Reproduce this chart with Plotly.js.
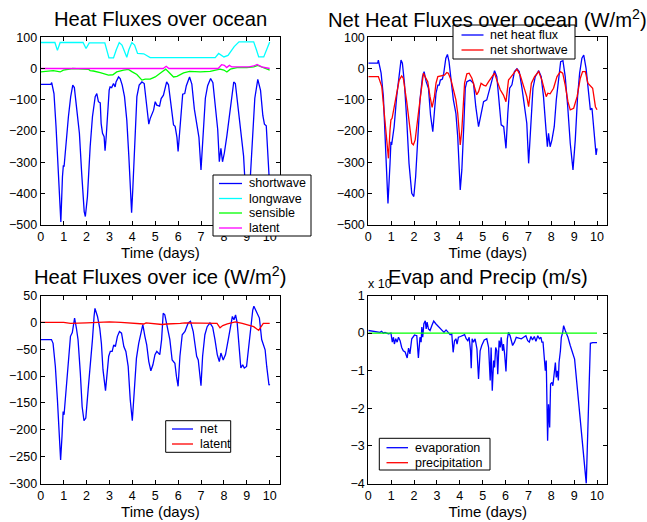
<!DOCTYPE html>
<html><head><meta charset="utf-8">
<script src="https://cdn.plot.ly/plotly-3.0.1.min.js"></script>
<style>html,body{margin:0;padding:0;background:#fff}#chart{width:647px;height:522px}</style>
</head><body><div id="chart"></div>
<script>
// ---------- Panel 1: Heat Fluxes over ocean ----------
const swTime = [0,0.44,0.48,0.58,0.67,0.77,0.83,0.88,0.95,0.99,1.02,1.11,1.21,1.31,1.4,1.47,1.57,1.69,1.79,1.9,1.95,2.04,2.16,2.26,2.38,2.45,2.52,2.6,2.64,2.7,2.77,2.81,2.86,2.93,2.99,3.03,3.1,3.18,3.25,3.29,3.4,3.47,3.56,3.66,3.76,3.85,3.91,3.97,4.02,4.13,4.2,4.3,4.42,4.52,4.64,4.72,4.78,4.85,4.93,5.0,5.07,5.19,5.26,5.36,5.5,5.58,5.68,5.8,5.87,5.95,6.0,6.09,6.2,6.29,6.36,6.5,6.6,6.71,6.82,6.91,7.0,7.08,7.19,7.29,7.42,7.52,7.62,7.73,7.8,7.87,7.94,8.02,8.13,8.24,8.33,8.43,8.5,8.6,8.72,8.86,8.95,9.05,9.16,9.25,9.35,9.48,9.6,9.7,9.77,9.85,9.9,10.0];
const shortwave = [-51,-51,-45,-80,-186,-335,-440,-490,-346,-309,-314,-229,-154,-90,-53,-61,-122,-207,-335,-457,-473,-410,-250,-154,-90,-80,-106,-110,-176,-207,-218,-263,-218,-122,-69,-59,-61,-48,-59,-43,-27,-32,-53,-90,-165,-282,-388,-461,-388,-197,-90,-53,-43,-48,-122,-178,-160,-149,-133,-106,-117,-120,-96,-85,-43,-52,-120,-180,-185,-220,-265,-175,-82,-80,-55,-27,-50,-130,-180,-220,-324,-210,-95,-55,-32,-45,-120,-195,-298,-255,-298,-270,-215,-150,-85,-43,-48,-110,-195,-280,-400,-390,-340,-200,-95,-35,-70,-150,-178,-183,-260,-380];
const lwTime = [0,0.62,0.73,0.85,1.85,1.98,2.12,2.8,2.98,3.18,3.3,3.43,3.55,3.68,3.76,3.85,3.98,4.1,4.23,4.5,4.78,5,7.62,7.77,8.0,8.18,8.45,8.66,9.3,9.42,9.52,9.74,9.85,9.97,10];
const longwave = [83,83,58,83,83,64,82,82,34,34,60,83,75,50,36,60,83,75,48,47,35,35,35,48,37,42,70,85,85,60,37,37,60,84,85];
const sensTime = [0,0.55,0.85,0.99,1.4,1.87,2.1,2.16,2.3,2.6,2.96,3.15,3.32,3.62,3.83,3.98,4.2,4.42,4.56,4.78,5.0,5.29,5.46,5.65,5.8,5.95,6.24,6.5,6.97,7.4,7.7,7.83,8.0,8.13,8.28,8.57,9.0,9.3,9.48,9.74,10];
const sensible = [-11,-7,-11,-5,0,-1,-3,-7,-8,-13,-21,-20,-11,-5,-3,-10,-19,-37,-34,-34,-27,-11,-2,-16,-27,-25,-14,-9,-11,-9,-5,-2,-5,-11,-2,3,3,5,10,2,-5];
const latTime = [0,5.35,5.48,5.6,7.75,7.9,8.02,8.12,8.24,8.35,8.6,9.1,9.3,9.45,9.65,9.85,10];
const latent = [0,0,7,0,0,12,10,3,10,5,5,5,8,13,5,2,0];

// ---------- Panel 2: Net Heat Fluxes over ocean ----------
const netTime = [0,0.41,0.44,0.56,0.66,0.76,0.86,0.95,0.99,1.02,1.13,1.24,1.35,1.43,1.49,1.58,1.68,1.78,1.9,1.99,2.07,2.16,2.26,2.37,2.44,2.53,2.63,2.72,2.82,2.89,2.96,3.04,3.1,3.15,3.24,3.3,3.39,3.46,3.53,3.62,3.72,3.83,3.91,4.02,4.09,4.18,4.24,4.31,4.45,4.6,4.7,4.82,4.93,5.04,5.18,5.29,
  5.4,5.52,5.62,5.72,5.81,5.92,6.02,6.1,6.18,6.28,6.39,6.5,6.6,6.72,6.83,6.93,7.01,7.11,7.2,7.3,7.45,7.56,7.66,7.77,7.83,7.88,7.95,8.03,8.13,8.22,8.32,8.41,8.51,8.61,8.72,8.83,8.95,9.05,9.15,9.24,9.34,9.42,9.52,9.63,9.71,9.78,9.85,9.96,10.0];
const netHeatFlux = [17,17,27,-15,-90,-250,-431,-303,-234,-244,-186,-90,-15,27,17,-47,-164,-303,-399,-409,-346,-218,-100,-26,-10,-42,-63,-148,-202,-138,-79,-53,-53,-37,-34,-15,33,45,22,-37,-100,-143,-218,-388,-324,-175,-63,-42,-37,-47,-122,-186,-143,-106,-100,-68,
  -37,-7,-26,-111,-180,-186,-255,-143,-63,-52,-10,-1,-10,-63,-116,-175,-303,-154,-63,-26,-7,-26,-90,-196,-250,-207,-250,-228,-186,-100,-26,22,25,-26,-122,-239,-324,-228,-90,-15,33,43,1,-90,-132,-127,-186,-276,-255];
const nswTime = [0,0.44,0.59,0.7,0.8,0.88,0.95,0.99,1.04,1.14,1.24,1.35,1.46,1.53,1.68,1.78,1.9,1.97,2.05,2.19,2.31,2.41,2.48,2.6,2.7,2.79,2.89,2.96,3.04,3.15,3.24,3.33,3.43,3.5,3.62,3.72,3.83,3.91,4.02,4.09,4.21,4.31,4.41,4.53,4.64,4.74,4.82,4.93,5.04,5.14,5.26,
  5.4,5.52,5.62,5.77,5.91,6.02,6.13,6.25,6.39,6.5,6.64,6.79,6.93,7.01,7.13,7.27,7.45,7.59,7.71,7.78,7.85,7.95,8.1,8.25,8.4,8.5,8.61,8.73,8.83,8.98,9.13,9.27,9.37,9.49,9.6,9.75,9.81,9.93,10.0];
const netShortwave = [-26,-26,-58,-143,-228,-287,-196,-164,-159,-122,-74,-37,-24,-31,-106,-175,-239,-244,-228,-143,-68,-15,-26,-42,-90,-124,-90,-47,-26,-24,-21,-21,-13,-15,-37,-63,-100,-143,-244,-196,-47,-17,-15,-31,-58,-84,-74,-47,-53,-56,-42,
  -26,-15,-37,-68,-85,-106,-37,-26,-10,-2,-21,-53,-90,-122,-47,-26,-10,-37,-68,-90,-79,-81,-63,-26,-10,-15,-53,-106,-132,-127,-90,-31,-10,-10,-47,-58,-63,-122,-132];

// ---------- Panel 3: Heat Fluxes over ice ----------
const iceTime = [0,0.47,0.54,0.64,0.73,0.8,0.87,0.93,0.98,1.02,1.09,1.19,1.3,1.38,1.48,1.56,1.63,1.73,1.81,1.89,1.97,2.07,2.17,2.26,2.33,2.37,2.48,2.58,2.65,2.72,2.83,2.9,2.97,3.04,3.12,3.19,3.26,3.35,3.44,3.53,3.63,3.72,3.82,3.91,4.0,4.08,4.18,4.28,4.37,4.46,4.55,4.63,4.72,4.81,4.9,4.99,5.07,5.2,
  5.28,5.35,5.42,5.54,5.64,5.74,5.86,5.93,6.0,6.08,6.18,6.3,6.44,6.54,6.66,6.81,6.88,7.0,7.07,7.17,7.27,7.39,7.51,7.61,7.71,7.8,7.87,7.97,8.07,8.19,8.31,8.37,8.44,8.51,8.58,8.67,8.74,8.82,8.89,8.99,9.09,9.18,9.26,9.31,9.43,9.55,9.65,9.74,9.8,9.87,9.97,10.0];
const iceNet = [-32,-32,-39,-82,-144,-206,-256,-212,-166,-172,-138,-82,-26,-19,8,-11,-32,-94,-157,-183,-178,-126,-82,-32,11,26,11,-11,-39,-88,-127,-88,-63,-54,-54,-42,-45,-26,-17,-20,-45,-54,-82,-144,-183,-132,-67,-39,-20,-4,-26,-42,-73,-90,-79,-60,-54,-60,
  -32,17,14,-8,-32,-70,-76,-101,-119,-63,-23,-17,-1,2,-17,-63,-70,-118,-63,-23,-8,-1,-9,-32,-60,-73,-57,-70,-60,-32,2,11,5,14,-1,-45,-85,-79,-85,-82,-45,-1,23,30,20,8,-32,-42,-51,-82,-117,-115];
const iceLatTime = [0,1.0,1.3,1.6,2.0,2.5,3.0,3.5,4.0,4.5,4.6,5.0,5.3,5.5,5.8,6.1,6.3,6.6,7.0,7.5,7.7,7.83,7.95,8.15,8.5,8.8,9.0,9.3,9.52,9.6,9.72,10];
const iceLatent = [0,0,-2,-1,-1,0,1,0,-1,-3,-1,-2,-4,-3,-3,-2,-1,-1,-1,-1,-2,-10,-6,-3,1,-2,-4,-8,-15,-10,-2,-2];

// ---------- Panel 4: Evap and Precip (scaled, x 10^n) ----------
const evapTime = [0,0.15,0.37,0.51,0.58,0.66,0.73,0.88,0.99,1.05,1.1,1.14,1.2,1.26,1.32,1.39,1.46,1.53,1.61,1.7,1.76,1.82,1.9,2.02,2.12,2.19,2.26,2.31,2.34,2.38,2.43,2.49,2.53,2.57,2.63,2.7,2.78,2.86,2.95,3.07,3.21,3.31,3.4,3.5,3.58,3.65,3.71,3.77,3.83,3.88,3.94,4.03,4.12,4.21,4.28,4.35,4.41,4.47,4.5,4.54,4.6,4.67,4.75,4.82,4.89,4.96,5.07,5.18,
  5.26,5.33,5.37,5.42,5.48,5.52,5.57,5.62,5.66,5.72,5.77,5.81,5.87,5.91,5.96,6.02,6.08,6.13,6.2,6.31,6.39,6.47,6.58,6.69,6.79,6.89,6.97,7.04,7.11,7.18,7.26,7.33,7.41,7.48,7.55,7.59,7.64,7.69,7.74,7.78,7.84,7.88,7.93,7.97,8.03,8.07,8.13,8.18,8.22,8.26,8.31,8.34,8.4,8.44,8.5,8.54,8.61,8.73,8.83,8.93,9.02,9.53,9.71,9.81,10.0];
const evaporation = [0.07,0.05,0.04,0.02,0.05,0.0,0.02,-0.02,0.0,-0.24,-0.11,-0.29,-0.15,-0.24,-0.11,-0.2,-0.38,-0.47,-0.5,-0.66,-0.4,-0.55,-0.15,-0.05,-0.07,-0.66,-0.11,-0.24,0.16,-0.11,0.25,0.33,0.11,0.29,0.11,0.07,0.2,0.32,0.25,0.17,0.085,0.02,0.085,0.01,-0.04,-0.02,-0.51,-0.2,-0.15,-0.29,-0.11,-0.09,-0.07,-0.04,-0.15,-0.2,-0.11,-0.47,-0.93,-0.15,-0.24,-0.15,-0.42,-1.22,-0.47,-0.33,-0.18,-0.15,
  -0.38,-1.26,-0.38,-1.53,-0.73,-0.91,-0.38,-0.47,-1.09,-0.2,-0.38,-0.11,-0.47,-0.29,-0.55,-1.02,-0.15,0.02,-0.07,-0.33,-0.24,-0.11,-0.13,-0.15,-0.11,-0.07,-0.2,-0.24,-0.09,-0.18,-0.09,-0.22,-0.07,-0.15,-0.11,-0.24,-0.24,-0.64,-1.0,-0.73,-2.86,-1.89,-2.51,-1.35,-1.31,-1.4,-1.0,-0.78,-1.18,-1.0,-1.26,-0.78,-0.47,-0.11,0.02,0.2,0.07,-0.11,-0.33,-0.55,-0.69,-4.0,-0.27,-0.25,-0.25];
const precipTime = [0,10];
const precipitation = [0,0];

// ---------- Text ----------
const panelTitles = ['Heat Fluxes over ocean','Net Heat Fluxes over ocean (W/m<sup>2</sup>)','Heat Fluxes over ice (W/m<sup>2</sup>)','Evap and Precip (m/s)'];
const xTitle = 'Time (days)';
const legend1Names = ['shortwave','longwave','sensible','latent'];
const legend2Names = ['net heat flux','net shortwave'];
const legend3Names = ['net','latent'];
const legend4Names = ['evaporation','precipitation'];

// ---------- Styling ----------
const BLUE='rgb(0,0,255)', CYAN='rgb(0,255,255)', GREEN='rgb(0,255,0)', MAG='rgb(255,0,255)', RED='rgb(255,0,0)';
const FONT='"Liberation Sans", Arial, Helvetica, sans-serif';
const W=647, H=522;
const px = x => x/W, py = y => 1 - y/H;
const LW = 1.3;
function tr(x,y,color,name,xa,ya){return {x:x,y:y,type:'scatter',mode:'lines',line:{color:color,width:LW},name:name,xaxis:xa,yaxis:ya,showlegend:false,hoverinfo:'skip'};}

const data = [
  tr(swTime,shortwave,BLUE,legend1Names[0],'x','y'),
  tr(lwTime,longwave,CYAN,legend1Names[1],'x','y'),
  tr(sensTime,sensible,GREEN,legend1Names[2],'x','y'),
  tr(latTime,latent,MAG,legend1Names[3],'x','y'),
  tr(netTime,netHeatFlux,BLUE,legend2Names[0],'x2','y2'),
  tr(nswTime,netShortwave,RED,legend2Names[1],'x2','y2'),
  tr(iceTime,iceNet,BLUE,legend3Names[0],'x3','y3'),
  tr(iceLatTime,iceLatent,RED,legend3Names[1],'x3','y3'),
  tr(evapTime,evaporation,BLUE,legend4Names[0],'x4','y4'),
  tr(precipTime,precipitation,GREEN,legend4Names[1],'x4','y4')
];

const axBase = {showline:true, linecolor:'black', linewidth:1, mirror:'ticks', ticks:'inside', ticklen:4, tickwidth:1, tickcolor:'black', showgrid:false, zeroline:false, tickfont:{family:FONT,size:12.5,color:'black'}, fixedrange:true};
const xl=[px(40.7),px(280)], xr=[px(368.3),px(607.3)];
const yt=[py(225),py(37.2)], yb=[py(483.6),py(295.5)];
function xax(dom,anchor){return Object.assign({},axBase,{domain:dom,anchor:anchor,range:[0,10.45],tick0:0,dtick:1,title:{text:xTitle,font:{family:FONT,size:15,color:'black'},standoff:3}});}
function yax(dom,anchor,range,dt){return Object.assign({},axBase,{domain:dom,anchor:anchor,range:range,tick0:0,dtick:dt});}

const shapes=[], annotations=[];
function title(text,cx,cy){annotations.push({text:text,xref:'paper',yref:'paper',x:px(cx),y:py(cy),xanchor:'center',yanchor:'middle',showarrow:false,font:{family:FONT,size:20.2,color:'black'}});}
title(panelTitles[0],160.3,19.5);
title(panelTitles[1],487.8,18.5);
title(panelTitles[2],160.3,275.5);
title(panelTitles[3],487.8,277);
annotations.push({text:'x 10',xref:'paper',yref:'paper',x:px(366),y:py(284),xanchor:'left',yanchor:'middle',showarrow:false,font:{family:FONT,size:12.5,color:'black'}});

function legend(box,l0,l1,tx,ys,names,colors){
  shapes.push({type:'rect',xref:'paper',yref:'paper',x0:px(box[0]),x1:px(box[1]),y0:py(box[3]),y1:py(box[2]),fillcolor:'white',line:{color:'black',width:1},layer:'above'});
  names.forEach((n,i)=>{
    shapes.push({type:'line',xref:'paper',yref:'paper',x0:px(l0),x1:px(l1),y0:py(ys[i]),y1:py(ys[i]),line:{color:colors[i],width:LW},layer:'above'});
    annotations.push({text:n,xref:'paper',yref:'paper',x:px(tx),y:py(ys[i]),xanchor:'left',yanchor:'middle',showarrow:false,font:{family:FONT,size:12.5,color:'black'}});
  });
}
legend([213,311,175,236],219,242,247,[183.5,198.5,213,228],legend1Names,[BLUE,CYAN,GREEN,MAG]);
legend([453,575,25,59],461.5,483.5,488,[35,50],legend2Names,[BLUE,RED]);
legend([165.7,230.7,420.7,452.3],172,193,198,[429,444],legend3Names,[BLUE,RED]);
legend([379.3,490,438.3,470],386.5,408,413,[447.7,462.7],legend4Names,[BLUE,RED]);

const layout = {
  width:W, height:H, margin:{l:0,r:0,t:0,b:0}, paper_bgcolor:'white', plot_bgcolor:'white', showlegend:false,
  font:{family:FONT,color:'black'},
  xaxis:xax(xl,'y'), yaxis:yax(yt,'x',[-500,100],100),
  xaxis2:xax(xr,'y2'), yaxis2:yax(yt,'x2',[-500,100],100),
  xaxis3:xax(xl,'y3'), yaxis3:yax(yb,'x3',[-300,50],50),
  xaxis4:xax(xr,'y4'), yaxis4:yax(yb,'x4',[-4,1],1),
  shapes:shapes, annotations:annotations
};
Plotly.newPlot('chart',data,layout,{staticPlot:true,displayModeBar:false});
</script></body></html>
